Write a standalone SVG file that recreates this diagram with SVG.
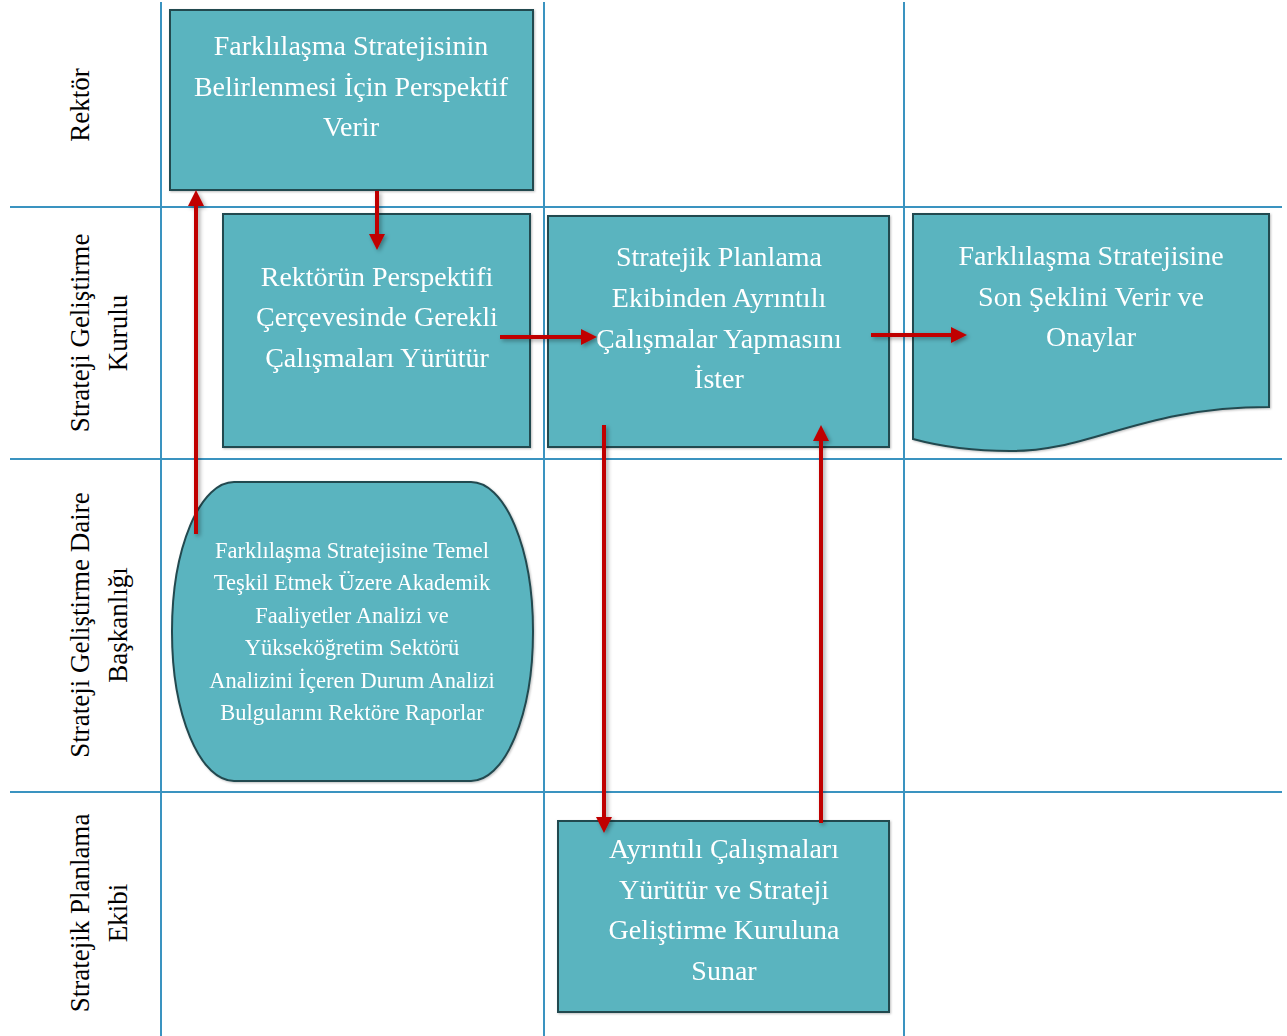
<svg xmlns="http://www.w3.org/2000/svg" width="1287" height="1036" viewBox="0 0 1287 1036">
<style>
.grid{stroke:#3a93c0;stroke-width:2;fill:none}
.box{fill:#5ab4bf;stroke:#24494f;stroke-width:2}
.t{font-family:"Liberation Serif","DejaVu Serif",serif;font-size:28px;fill:#ffffff;text-anchor:middle}
.ts{font-family:"Liberation Serif","DejaVu Serif",serif;font-size:22.5px;fill:#ffffff;text-anchor:middle}
.lane{font-family:"Liberation Serif","DejaVu Serif",serif;font-size:27px;fill:#000000;text-anchor:middle}
.arr{stroke:#c00000;stroke-width:4;fill:none;marker-end:url(#ah)}
</style>
<defs>
<marker id="ah" markerWidth="4.5" markerHeight="4" refX="3" refY="2" orient="auto" markerUnits="strokeWidth">
<path d="M0,0 L4,2 L0,4 Z" fill="#c00000"/>
</marker>
<filter id="sh" filterUnits="userSpaceOnUse" x="0" y="0" width="1287" height="1036">
<feDropShadow dx="2" dy="2" stdDeviation="2" flood-color="#000" flood-opacity="0.35"/>
</filter>
<filter id="bs" x="-10%" y="-10%" width="120%" height="120%">
<feDropShadow dx="1" dy="1" stdDeviation="1" flood-color="#000" flood-opacity="0.25"/>
</filter>
</defs>

<g id="grid">
<line class="grid" x1="161" y1="2" x2="161" y2="1036"/>
<line class="grid" x1="544" y1="2" x2="544" y2="1036"/>
<line class="grid" x1="904" y1="2" x2="904" y2="1036"/>
<line class="grid" x1="10" y1="207" x2="1282" y2="207"/>
<line class="grid" x1="10" y1="459" x2="1282" y2="459"/>
<line class="grid" x1="10" y1="792" x2="1282" y2="792"/>
</g>

<g id="lanes">
<text class="lane" transform="translate(89,105) rotate(-90)">Rektör</text>
<text class="lane" transform="translate(89,333) rotate(-90)">Strateji Geliştirme</text>
<text class="lane" transform="translate(127,333) rotate(-90)">Kurulu</text>
<text class="lane" transform="translate(89,625) rotate(-90)">Strateji Geliştirme Daire</text>
<text class="lane" transform="translate(127,625) rotate(-90)">Başkanlığı</text>
<text class="lane" transform="translate(89,913) rotate(-90)">Stratejik Planlama</text>
<text class="lane" transform="translate(127,913) rotate(-90)">Ekibi</text>
</g>

<g id="n1" filter="url(#bs)">
<rect class="box" x="170" y="10" width="363" height="180"/>
<text class="t" x="351" y="55">Farklılaşma Stratejisinin</text>
<text class="t" x="351" y="96">Belirlenmesi İçin Perspektif</text>
<text class="t" x="351" y="136">Verir</text>
</g>

<g id="n2" filter="url(#bs)">
<rect class="box" x="223" y="214" width="307" height="233"/>
<text class="t" x="377" y="286">Rektörün Perspektifi</text>
<text class="t" x="377" y="326">Çerçevesinde Gerekli</text>
<text class="t" x="377" y="367">Çalışmaları Yürütür</text>
</g>

<g id="n3" filter="url(#bs)">
<rect class="box" x="548" y="216" width="341" height="231"/>
<text class="t" x="719" y="266">Stratejik Planlama</text>
<text class="t" x="719" y="307">Ekibinden Ayrıntılı</text>
<text class="t" x="719" y="348">Çalışmalar Yapmasını</text>
<text class="t" x="719" y="388">İster</text>
</g>

<g id="n4" filter="url(#bs)">
<path class="box" d="M913,214 L1269,214 L1269,407 C1140,407 1090,452 1010,451 C965,451 935,445 913,439 Z"/>
<text class="t" x="1091" y="265">Farklılaşma Stratejisine</text>
<text class="t" x="1091" y="306">Son Şeklini Verir ve</text>
<text class="t" x="1091" y="346">Onaylar</text>
</g>

<g id="n5" filter="url(#bs)">
<rect class="box" x="172" y="482" width="361" height="299" rx="62" ry="149"/>
<text class="ts" x="352" y="558">Farklılaşma Stratejisine Temel</text>
<text class="ts" x="352" y="590">Teşkil Etmek Üzere Akademik</text>
<text class="ts" x="352" y="623">Faaliyetler Analizi ve</text>
<text class="ts" x="352" y="655">Yükseköğretim Sektörü</text>
<text class="ts" x="352" y="688">Analizini İçeren Durum Analizi</text>
<text class="ts" x="352" y="720">Bulgularını Rektöre Raporlar</text>
</g>

<g id="n6" filter="url(#bs)">
<rect class="box" x="558" y="821" width="331" height="191"/>
<text class="t" x="724" y="858">Ayrıntılı Çalışmaları</text>
<text class="t" x="724" y="899">Yürütür ve Strateji</text>
<text class="t" x="724" y="939">Geliştirme Kuruluna</text>
<text class="t" x="724" y="980">Sunar</text>
</g>

<g id="connectors" filter="url(#sh)">
<line class="arr" x1="377" y1="191" x2="377" y2="246"/>
<line class="arr" x1="196" y1="534" x2="196" y2="194"/>
<line class="arr" x1="500" y1="337" x2="593" y2="337"/>
<line class="arr" x1="871" y1="335" x2="963" y2="335"/>
<line class="arr" x1="604" y1="425" x2="604" y2="829"/>
<line class="arr" x1="821" y1="823" x2="821" y2="429"/>
</g>
</svg>
